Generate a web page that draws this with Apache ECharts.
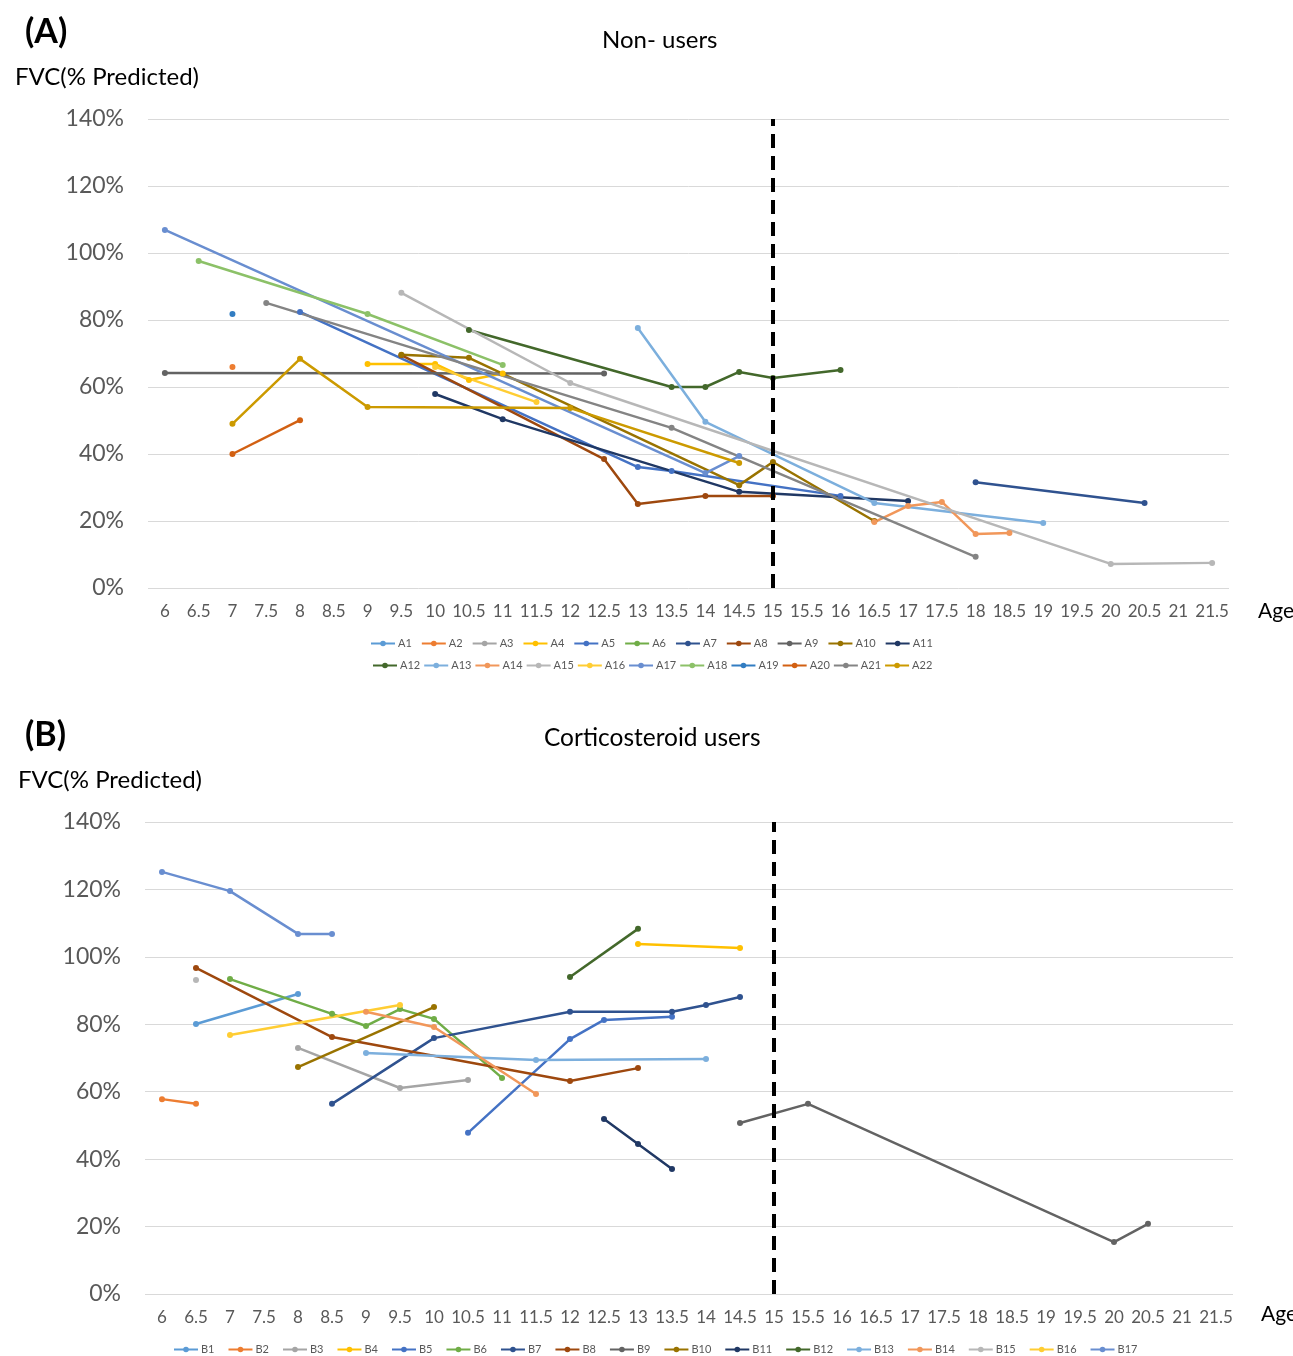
<!DOCTYPE html>
<html>
<head>
<meta charset="utf-8">
<title>FVC by age</title>
<script src="https://cdn.jsdelivr.net/npm/echarts@6/dist/echarts.min.js"></script>
<style>
  html, body { margin: 0; padding: 0; background: #fff; }
  #chart { width: 1293px; height: 1356px; }
</style>
</head>
<body>
<div id="chart"></div>
<script>
// age categories (x axis, both panels)
const ageLabels = ['6','6.5','7','7.5','8','8.5','9','9.5','10','10.5','11','11.5','12','12.5','13','13.5',
  '14','14.5','15','15.5','16','16.5','17','17.5','18','18.5','19','19.5','20','20.5','21','21.5'];
const yTicks = [0, 20, 40, 60, 80, 100, 120, 140];

// (A) non-users : [age, FVC %]
const A1 = [];
const A2 = [[7, 66]];
const A3 = [];
const A4 = [[9, 66.9], [10, 66.9], [10.5, 62.1], [11, 64]];
const A5 = [[8, 82.4], [13, 36.1], [13.5, 34.9], [16, 27.5]];
const A6 = [];
const A7 = [[18, 31.6], [20.5, 25.4]];
const A8 = [[9.5, 69.5], [12.5, 38.5], [13, 25.1], [14, 27.5], [15, 27.5]];
const A9 = [[6, 64.2], [12.5, 64]];
const A10 = [[9.5, 69.6], [10.5, 68.7], [14.5, 30.7], [15, 37.6], [16.5, 20]];
const A11 = [[10, 57.9], [11, 50.4], [14.5, 28.7], [17, 26]];
const A12 = [[10.5, 77], [13.5, 60], [14, 60], [14.5, 64.5], [15, 62.7], [16, 65.1]];
const A13 = [[13, 77.6], [14, 49.6], [16.5, 25.4], [19, 19.4]];
const A14 = [[16.5, 19.7], [17, 24.5], [17.5, 25.7], [18, 16.1], [18.5, 16.4]];
const A15 = [[9.5, 88.1], [12, 61.2], [20, 7.2], [21.5, 7.5]];
const A16 = [[10, 66], [11.5, 55.5]];
const A17 = [[6, 106.9], [14, 34.3], [14.5, 39.4]];
const A18 = [[6.5, 97.6], [9, 81.8], [11, 66.6]];
const A19 = [[7, 81.8]];
const A20 = [[7, 40], [8, 50.1]];
const A21 = [[7.5, 85.1], [13.5, 47.8], [18, 9.3]];
const A22 = [[7, 49], [8, 68.4], [9, 54], [12, 53.7], [14.5, 37.3]];

// (B) corticosteroid users
const B1 = [[6.5, 80.1], [8, 89]];
const B2 = [[6, 57.8], [6.5, 56.4]];
const B3 = [[8, 73], [9.5, 61.1], [10.5, 63.5]];
const B4 = [[13, 103.8], [14.5, 102.6]];
const B5 = [[10.5, 47.8], [12, 75.6], [12.5, 81.3], [13.5, 82.2]];
const B6 = [[7, 93.4], [8.5, 83.1], [9, 79.5], [9.5, 84.5], [10, 81.6], [11, 64.1]];
const B7 = [[8.5, 56.4], [10, 75.9], [12, 83.7], [13.5, 83.7], [14, 85.7], [14.5, 88.1]];
const B8 = [[6.5, 96.7], [8.5, 76.2], [12, 63.2], [13, 67]];
const B9 = [[14.5, 50.7], [15.5, 56.4], [20, 15.4], [20.5, 20.8]];
const B10 = [[8, 67.3], [10, 85.1]];
const B11 = [[12.5, 51.9], [13, 44.5], [13.5, 37.1]];
const B12 = [[12, 94], [13, 108.3]];
const B13 = [[9, 71.5], [11.5, 69.4], [14, 69.7]];
const B14 = [[9, 83.7], [10, 79.2], [11.5, 59.3]];
const B15 = [[6.5, 93.1]];
const B16 = [[7, 76.8], [9.5, 85.7]];
const B17 = [[6, 125.2], [7, 119.5], [8, 106.8], [8.5, 106.8]];

const palette = ['#5B9BD5', '#ED7D31', '#A5A5A5', '#FFC000', '#4472C4', '#70AD47',
  '#2F528F', '#9E480E', '#636363', '#997300', '#203864', '#43682B',
  '#7CAFDD', '#F1975A', '#B7B7B7', '#FFCD33', '#698ED0', '#8CC168',
  '#327DC2', '#D26012', '#848484', '#CC9A00'];

const groupA = [A1, A2, A3, A4, A5, A6, A7, A8, A9, A10, A11, A12, A13, A14, A15, A16, A17, A18, A19, A20, A21, A22];
const groupB = [B1, B2, B3, B4, B5, B6, B7, B8, B9, B10, B11, B12, B13, B14, B15, B16, B17];

const font = 'Lato, "Open Sans", sans-serif';
const labelColor = '#595959';

function makeSeries(list, prefix, axis) {
  return list.map(function (pts, i) {
    let s = {
      name: prefix + (i + 1),
      type: 'line',
      xAxisIndex: axis,
      yAxisIndex: axis,
      data: pts.map(function (p) { return [String(p[0]), p[1]]; }),
      symbol: 'circle',
      symbolSize: 6,
      color: palette[i],
      lineStyle: { width: 2.5 },
      emphasis: { disabled: true },
      animation: false
    };
    if (i === 0) {
      s.markLine = {
        silent: true,
        symbol: 'none',
        label: { show: false },
        lineStyle: { color: '#000', width: 4, type: [14, 8] },
        data: [{ xAxis: '15' }]
      };
    }
    return s;
  });
}

function xAxisOf(idx) {
  return {
    type: 'category',
    gridIndex: idx,
    data: ageLabels,
    boundaryGap: true,
    axisLine: { show: false },
    axisTick: { show: false },
    axisLabel: { interval: 0, fontSize: 17, color: labelColor, fontFamily: font, margin: 15 }
  };
}

function yAxisOf(idx) {
  return {
    type: 'value',
    gridIndex: idx,
    min: yTicks[0],
    max: yTicks[yTicks.length - 1],
    interval: 20,
    axisLine: { show: false },
    axisTick: { show: false },
    splitLine: { lineStyle: { color: '#D9D9D9', width: 1 } },
    axisLabel: { formatter: '{value}%', fontSize: 23, color: labelColor, fontFamily: font, margin: 24 }
  };
}

function legendOf(names, left, top, gap) {
  return {
    data: names,
    left: left,
    top: top,
    orient: 'horizontal',
    itemWidth: 24,
    itemHeight: 7,
    itemGap: gap,
    textStyle: { fontSize: 11, color: labelColor, fontFamily: font, padding: [0, 0, 0, -2] },
    selectedMode: false
  };
}

let seriesA = makeSeries(groupA, 'A', 0);
let seriesB = makeSeries(groupB, 'B', 1);
let namesA = seriesA.map(function (s) { return s.name; });
let namesB = seriesB.map(function (s) { return s.name; });

let chart = echarts.init(document.getElementById('chart'), null, { renderer: 'canvas' });
chart.setOption({
  backgroundColor: '#fff',
  animation: false,
  title: [
    { text: '(A)', left: 20, top: 10, textStyle: { fontSize: 34, fontWeight: 'bold', color: '#000', fontFamily: font } },
    { text: 'Non- users', left: 597, top: 23, textStyle: { fontSize: 24, fontWeight: 'normal', color: '#000', fontFamily: font } },
    { text: 'FVC(% Predicted)', left: 10, top: 60, textStyle: { fontSize: 24, fontWeight: 'normal', color: '#000', fontFamily: font } },
    { text: 'Age', left: 1253, top: 596, textStyle: { fontSize: 21, fontWeight: 'normal', color: '#000', fontFamily: font } },
    { text: '(B)', left: 20, top: 713, textStyle: { fontSize: 34, fontWeight: 'bold', color: '#000', fontFamily: font } },
    { text: 'Corticosteroid users', left: 539, top: 721, textStyle: { fontSize: 24.5, fontWeight: 'normal', color: '#000', fontFamily: font } },
    { text: 'FVC(% Predicted)', left: 13, top: 763, textStyle: { fontSize: 24, fontWeight: 'normal', color: '#000', fontFamily: font } },
    { text: 'Age', left: 1256, top: 1299, textStyle: { fontSize: 21, fontWeight: 'normal', color: '#000', fontFamily: font } }
  ],
  legend: [
    legendOf(namesA.slice(0, 11), 365, 633, 9),
    legendOf(namesA.slice(11), 367, 655, 3),
    legendOf(namesB, 168, 1339, 13)
  ],
  grid: [
    { left: 148, top: 119, width: 1081, height: 469, containLabel: false },
    { left: 145, top: 822, width: 1088, height: 472, containLabel: false }
  ],
  xAxis: [xAxisOf(0), xAxisOf(1)],
  yAxis: [yAxisOf(0), yAxisOf(1)],
  series: seriesA.concat(seriesB)
});
</script>
</body>
</html>
